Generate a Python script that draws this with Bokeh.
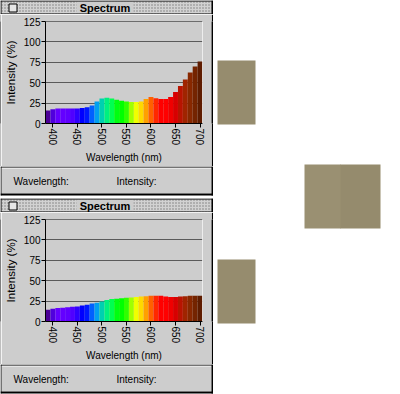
import math
from bokeh.plotting import figure
from bokeh.layouts import row, column
from bokeh.models import Range1d, FixedTicker, Span
from bokeh.core.properties import value
from bokeh.embed import file_html
from bokeh.resources import INLINE

# ---------------- data ----------------
wavelengths = [390, 400, 410, 420, 430, 440, 450, 460, 470, 480, 490, 500, 510, 520, 530, 540,
               550, 560, 570, 580, 590, 600, 610, 620, 630, 640, 650, 660, 670, 680, 690, 700]
intensity_top = [16, 17.5, 18.5, 18.5, 18.5, 18.5, 18.5, 19, 20, 22, 27, 30.5, 31.5, 30.5, 29, 28,
                 27, 26.5, 26.5, 27, 30, 32.5, 31, 30, 30, 32.5, 38.5, 46, 54, 62.5, 70, 76]
intensity_bottom = [14.5, 15.5, 16.5, 17, 17.5, 18, 18.5, 19.5, 20.5, 22, 23, 24.5, 26.5, 27.5, 28, 28.5,
                    29, 29.5, 30, 30.5, 31, 31.5, 31.5, 31.5, 30.5, 30, 30, 30.5, 31, 31.5, 31.5, 31.5]
bar_colors = ["#4b0096", "#5000dc", "#6400ff", "#6400ff", "#6000ff", "#5000ff", "#3000ff", "#0000ff",
              "#0018ff", "#0060ff", "#00a0f0", "#00d0b0", "#00f080", "#00ff50", "#00ff10", "#00ff00",
              "#30ff00", "#a0ff00", "#f0ff00", "#ffd800", "#ffa000", "#ff6000", "#ff2800", "#ff0000",
              "#ff0000", "#f00000", "#d80000", "#b81400", "#a02400", "#882800", "#742400", "#5e1c00"]
y_ticks = [0, 25, 50, 75, 100, 125]
x_ticks = [400, 450, 500, 550, 600, 650, 700]
window_title = "Spectrum"
status_labels = ["Wavelength:", "Intensity:"]
swatch_colors = ["#968c6e", "#9a9072", "#958b6d", "#968c6e"]

# ---------------- styling ----------------
GRAY = "#cdcdcd"
FONT = "Liberation Sans"
WIN_W = 213


def plain(width, height, xr, yr, bg):
    p = figure(width=width, height=height, output_backend="svg", toolbar_location=None,
               title=None, x_range=Range1d(*xr), y_range=Range1d(*yr), min_border=0,
               background_fill_color=bg, border_fill_color=bg, outline_line_color=None)
    p.axis.visible = False
    p.grid.visible = False
    return p


def title_bar():
    p = plain(WIN_W, 14, (0, WIN_W), (14, 0), GRAY)
    p.quad(left=[1], right=[211], top=[1], bottom=[13], fill_color="#d2d2d2", line_color=None,
           hatch_pattern="dot", hatch_scale=3, hatch_color="#7a7a7a", hatch_weight=1)
    p.quad(left=[76], right=[133], top=[1], bottom=[13], fill_color=GRAY, line_color=None)
    p.quad(left=[8.5], right=[16.5], top=[3.5], bottom=[11.5], fill_color="#e6e6e6",
           line_color="black", line_width=1)
    p.quad(left=[0, 0, 211, 0], right=[WIN_W, 1, WIN_W, WIN_W], top=[0, 0, 0, 13],
           bottom=[1, 14, 14, 14], fill_color="black", line_color=None)
    p.text(x=[104.5], y=[7.5], text=[window_title], text_align="center", text_baseline="middle",
           text_font=value(FONT), text_font_size="11px", text_font_style="bold", text_color="black")
    return p


def edge(width, height):
    p = plain(width, height, (0, 1), (0, 1), "black")
    p.scatter(x=[0.5], y=[0.5], size=0, alpha=0)
    return p


def chart(values):
    p = figure(width=210, height=152, output_backend="svg", toolbar_location=None,
               title=None, x_range=Range1d(385, 705), y_range=Range1d(0, 125),
               min_border_left=44, min_border_right=9, min_border_top=7, min_border_bottom=41,
               background_fill_color=GRAY, border_fill_color=GRAY, outline_line_color=None)
    p.vbar(x=wavelengths, top=values, width=10, bottom=0, fill_color=bar_colors, line_color=None)

    p.xgrid.visible = False
    p.ygrid.ticker = FixedTicker(ticks=y_ticks)
    p.ygrid.grid_line_color = "#5a5a5a"
    p.ygrid.grid_line_width = 1
    for ax in (p.xaxis[0], p.yaxis[0]):
        ax.axis_line_color = "black"
        ax.major_tick_line_color = "black"
        ax.major_tick_out = 4
        ax.major_tick_in = 0
        ax.minor_tick_line_color = None
        ax.major_label_text_font = FONT
        ax.major_label_text_font_size = "10px"
        ax.major_label_text_color = "black"
        ax.axis_label_text_font = FONT
        ax.axis_label_text_font_size = "10px"
        ax.axis_label_text_font_style = "normal"
        ax.axis_label_text_color = "black"
        ax.major_label_standoff = 1
    p.yaxis[0].ticker = FixedTicker(ticks=y_ticks)
    p.yaxis[0].axis_label = "Intensity (%)"
    p.yaxis[0].axis_label_standoff = 4
    p.yaxis[0].axis_label_text_font_size = "11.5px"
    p.xaxis[0].ticker = FixedTicker(ticks=x_ticks)
    p.xaxis[0].axis_label = "Wavelength (nm)"
    p.xaxis[0].major_label_orientation = -math.pi / 2
    p.xaxis[0].axis_label_standoff = 4

    p.add_layout(Span(location=125, dimension="width", line_color="black", line_width=1))
    p.add_layout(Span(location=705, dimension="height", line_color="white", line_width=1))
    return p


def status_bar(h):
    # h: total height of the status strip including white gap below the window
    p = plain(WIN_W, h, (0, WIN_W), (166 + h, 166), "white")
    p.quad(left=[1], right=[211], top=[166], bottom=[193], fill_color=GRAY, line_color=None)
    p.quad(left=[1], right=[211], top=[167], bottom=[168], fill_color="white", line_color=None)
    p.quad(left=[0, 0, 211, 0], right=[WIN_W, 1, WIN_W, WIN_W], top=[166, 166, 166, 193],
           bottom=[167, 195, 195, 195], fill_color="black", line_color=None)
    p.text(x=[13, 116], y=[180.5, 180.5], text=status_labels, text_align="left",
           text_baseline="middle", text_font=value(FONT), text_font_size="10px",
           text_color="black")
    return p


def window(values, status_h):
    return column(title_bar(), row(edge(1, 152), chart(values), edge(2, 152)), status_bar(status_h))


w1 = window(intensity_top, 32)
w2 = window(intensity_bottom, 30)

sw = plain(187, 394, (213, 400), (394, 0), "white")
sw_left = [217, 304, 340, 217]
sw_right = [255, 340.5, 380, 255]
sw_top = [60, 164, 164, 259]
sw_bottom = [124, 228, 228, 323]
sw.quad(left=sw_left, right=sw_right, top=sw_top, bottom=sw_bottom,
        fill_color=swatch_colors, line_color=None)

layout = row(column(w1, w2), sw, margin=(0, 0, 0, 0))
open("out.html", "w").write(file_html(layout, INLINE))
